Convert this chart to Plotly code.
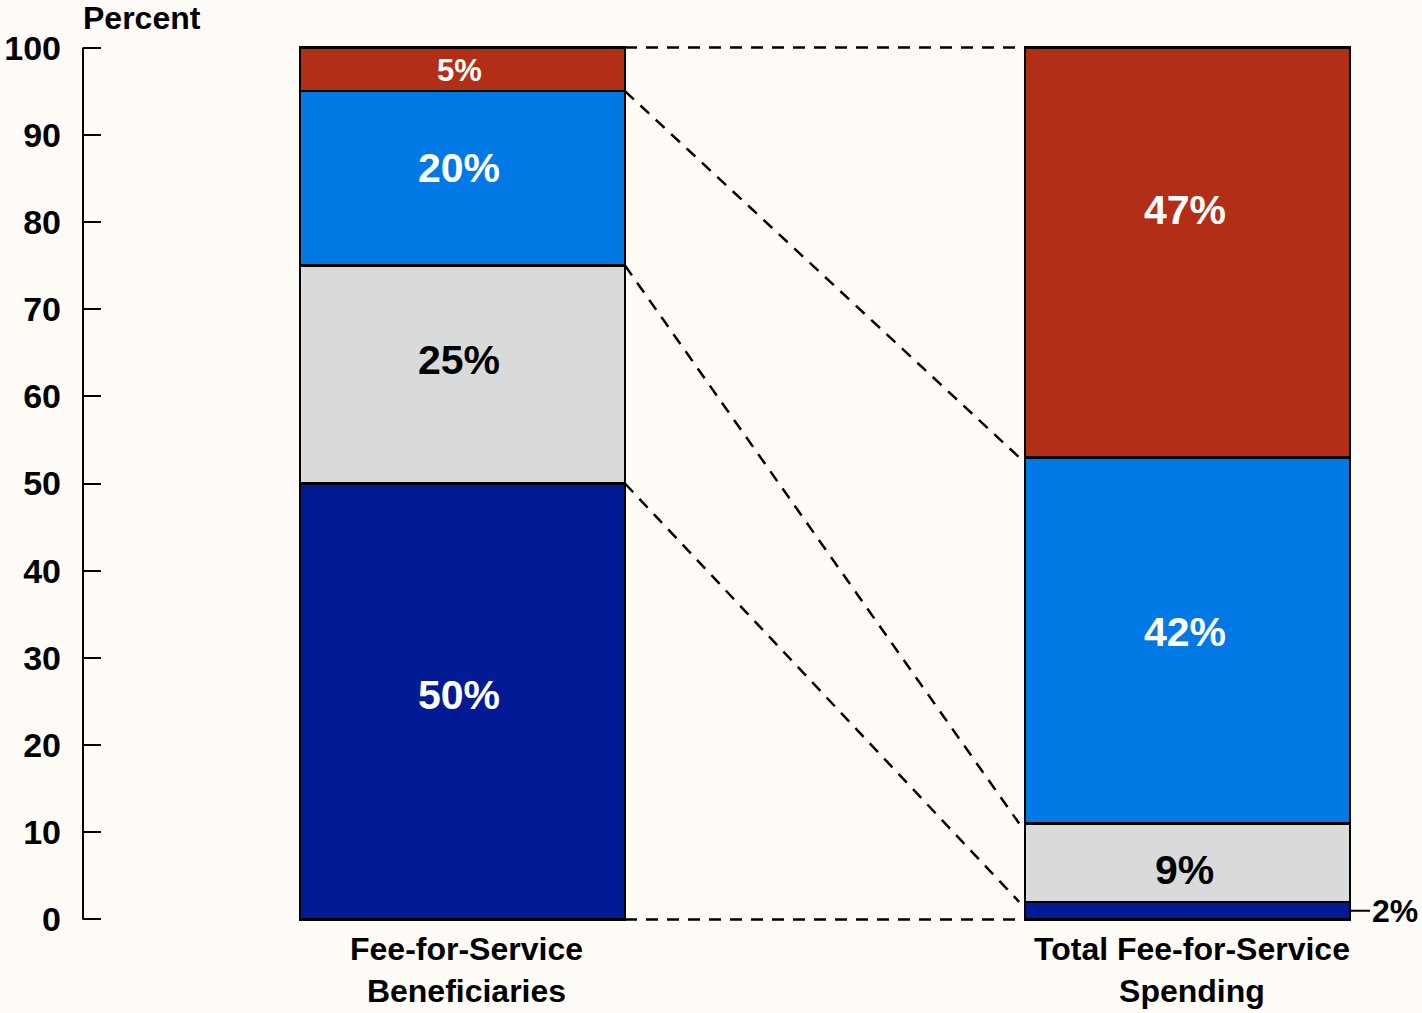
import plotly.graph_objects as go

# Dados (de baixo para cima em cada barra)
grupos = ["Fee-for-Service<br>Beneficiaries", "Total Fee-for-Service<br>Spending"]
beneficiarios = [50, 25, 20, 5]
gastos = [2, 9, 42, 47]
rotulos_benef = ["50%", "25%", "20%", "5%"]
rotulos_gasto = ["", "9%", "42%", "47%"]
rotulo_menor = "2%"
ticks_y = [0, 10, 20, 30, 40, 50, 60, 70, 80, 90, 100]

# Estilo
cores = ["#021A94", "#D9DBDA", "#0079E5", "#B22E17"]
cores_texto = ["white", "black", "white", "white"]
tam_benef = [41, 41, 41, 31]
tam_gasto = [41, 41, 41, 41]
ajuste_benef = [6, 15, 10, -1]   # deslocamento vertical dos rótulos (px)
ajuste_gasto = [0, -7, 8, 42]
FONTE = "Liberation Sans, Arial, sans-serif"
FUNDO = "#FFFCF8"
LARGURA = 0.4483
pos_x = [0, 1]

fig = go.Figure()

# Barras empilhadas
for i in range(len(beneficiarios)):
    fig.add_bar(
        x=pos_x,
        y=[beneficiarios[i], gastos[i]],
        width=LARGURA,
        marker=dict(color=cores[i], line=dict(color="black", width=2.5)),
        showlegend=False,
        hoverinfo="skip",
    )

# Linhas tracejadas ligando os limites acumulados
acum_b = [0]
acum_g = [0]
for b, g in zip(beneficiarios, gastos):
    acum_b.append(acum_b[-1] + b)
    acum_g.append(acum_g[-1] + g)

for yb, yg in zip(acum_b, acum_g):
    fig.add_trace(
        go.Scatter(
            x=[pos_x[0] + LARGURA / 2, pos_x[1] - LARGURA / 2 - 0.008],
            y=[yb, yg],
            mode="lines",
            line=dict(color="black", width=2.5, dash="12px,9px"),
            cliponaxis=False,
            showlegend=False,
            hoverinfo="skip",
        )
    )

# Rotulos dentro dos segmentos
for col, valores, rotulos, tams, ajustes in [
    (0, beneficiarios, rotulos_benef, tam_benef, ajuste_benef),
    (1, gastos, rotulos_gasto, tam_gasto, ajuste_gasto),
]:
    base = 0
    for i, (v, r) in enumerate(zip(valores, rotulos)):
        if r:
            fig.add_annotation(
                x=pos_x[col], y=base + v / 2,
                text=f"<b>{r}</b>",
                showarrow=False,
                yanchor="middle",
                yshift=ajustes[i],
                xshift=-3,
                font=dict(family=FONTE, size=tams[i], color=cores_texto[i]),
            )
        base += v

# Rotulo do segmento pequeno (2%)
fig.add_annotation(
    x=pos_x[1] + LARGURA / 2, y=gastos[0] / 2,
    text=f"<b>{rotulo_menor}</b>",
    showarrow=True, arrowhead=0, arrowwidth=2, arrowcolor="black",
    ax=20, ay=0, xanchor="left", standoff=0,
    font=dict(family=FONTE, size=32, color="black"),
)

# Nomes das categorias
for x, nome in zip(pos_x, grupos):
    fig.add_annotation(
        x=x, y=0, yanchor="top", yshift=-10, xshift=4,
        text=f"<b>{nome}</b>",
        showarrow=False,
        font=dict(family=FONTE, size=32, color="black"),
    )

# Titulo do eixo
fig.add_annotation(
    xref="paper", yref="paper", x=0, y=1, xanchor="left", yanchor="bottom",
    yshift=7, xshift=-2, text="<b>Percent</b>", showarrow=False,
    font=dict(family=FONTE, size=32, color="black"),
)

# Linha do eixo y
fig.add_shape(
    type="line", xref="paper", yref="y", x0=0, x1=0, y0=0, y1=100,
    line=dict(color="black", width=2),
)

fig.update_layout(
    barmode="stack",
    width=1422,
    height=1013,
    plot_bgcolor=FUNDO,
    paper_bgcolor=FUNDO,
    margin=dict(l=83, r=22, t=45, b=91),
    xaxis=dict(range=[-0.5234, 1.2931], visible=False, fixedrange=True),
    yaxis=dict(
        range=[-0.3, 100.3],
        tickvals=ticks_y,
        ticks="inside",
        ticklen=18,
        tickwidth=2,
        tickcolor="black",
        showgrid=False,
        zeroline=False,
        showline=False,
        automargin=False,
        ticklabelstandoff=21,
        tickfont=dict(family=FONTE, size=34, color="black", weight="bold"),
    ),
)

# tira a margem padrão da página para a figura ocupar a janela inteira
fig.write_html(
    "out.html",
    config={"displayModeBar": False},
    post_script="document.body.style.margin='0';",
)
